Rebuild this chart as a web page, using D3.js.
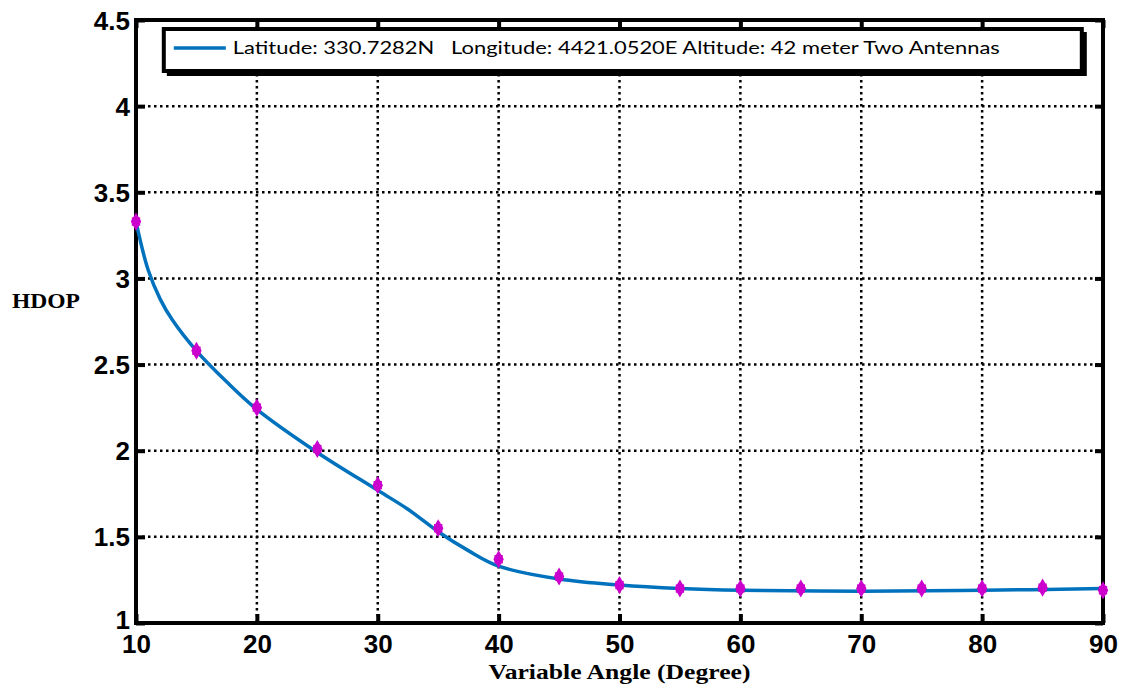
<!DOCTYPE html>
<html>
<head>
<meta charset="utf-8">
<script src="https://cdn.jsdelivr.net/npm/d3@7"></script>
<style>
  body { margin: 0; background: #fff; }
</style>
</head>
<body>
<div id="chart"></div>
<script>
// measured angles and HDOP values
var angles = [10, 15, 20, 25, 30, 35, 40, 45, 50, 55, 60, 65, 70, 75, 80, 85, 90];
var hdop = [3.33, 2.58, 2.25, 2.01, 1.80, 1.55, 1.37, 1.27, 1.22, 1.20, 1.20, 1.20, 1.20, 1.20, 1.20, 1.205, 1.19];

// fitted curve
var fitAngles = [10, 11, 12, 13, 15, 17.5, 20, 25, 30, 32.5, 35, 37.5, 40, 45, 50, 55, 60, 70, 80, 90];
var fitHdop = [3.33, 3.05, 2.88, 2.76, 2.58, 2.40, 2.24, 1.99, 1.77, 1.66, 1.53, 1.42, 1.33, 1.255, 1.22, 1.20, 1.19, 1.185, 1.19, 1.20];

var xTicks = [10, 20, 30, 40, 50, 60, 70, 80, 90];
var yTicks = [1, 1.5, 2, 2.5, 3, 3.5, 4, 4.5];
var legendLabel = "Latitude: 330.7282N   Longitude: 4421.0520E Altitude: 42 meter Two Antennas";

var W = 1123, H = 684;
var margin = {top: 20, right: 20, bottom: 61, left: 136},
    width = W - margin.left - margin.right,
    height = H - margin.top - margin.bottom;

var sansFont = "'Liberation Sans', Arial, sans-serif";
var serifFont = "'Liberation Serif', 'Times New Roman', serif";

var svg = d3.select("#chart").append("svg")
    .attr("width", W)
    .attr("height", H)
  .append("g")
    .attr("transform", "translate(" + margin.left + "," + margin.top + ")");

var x = d3.scaleLinear().domain([10, 90]).range([0, width]);
var y = d3.scaleLinear().domain([1, 4.5]).range([height, 0]);

// grid
svg.append("g").selectAll("line")
    .data(xTicks.slice(1, -1))
    .enter().append("line")
    .attr("x1", d => x(d)).attr("x2", d => x(d))
    .attr("y1", 0).attr("y2", height)
    .attr("stroke", "#000").attr("stroke-width", 2.5)
    .attr("stroke-dasharray", "2.5,3.5");

svg.append("g").selectAll("line")
    .data(yTicks.slice(1, -1))
    .enter().append("line")
    .attr("y1", d => y(d)).attr("y2", d => y(d))
    .attr("x1", 0).attr("x2", width)
    .attr("stroke", "#000").attr("stroke-width", 2.5)
    .attr("stroke-dasharray", "2.5,3.5");

// axes with inward ticks
var xAxis = svg.append("g")
    .attr("transform", "translate(0," + height + ")")
    .call(d3.axisBottom(x).tickValues(xTicks).tickSize(-9).tickPadding(11));
var yAxis = svg.append("g")
    .call(d3.axisLeft(y).tickValues(yTicks).tickSize(-9).tickPadding(6).tickFormat(d3.format("")));
svg.append("g")
    .call(d3.axisTop(x).tickValues(xTicks).tickSize(-8).tickFormat(""));
svg.append("g")
    .attr("transform", "translate(" + width + ",0)")
    .call(d3.axisRight(y).tickValues(yTicks).tickSize(-8).tickFormat(""));

svg.selectAll(".domain").remove();
svg.selectAll(".tick line").attr("stroke", "#000").attr("stroke-width", 4);
svg.selectAll(".tick text")
    .attr("fill", "#000")
    .attr("font-family", sansFont)
    .attr("font-weight", "bold")
    .attr("font-size", 26);
xAxis.selectAll(".tick text").attr("dy", "0.72em");
yAxis.selectAll(".tick text").attr("dy", d => d === 1 ? "0.22em" : "0.35em");

// frame
svg.append("rect")
    .attr("x", 0).attr("y", 0)
    .attr("width", width).attr("height", height)
    .attr("fill", "none")
    .attr("stroke", "#000")
    .attr("stroke-width", 4);

// fitted line
var line = d3.line()
    .x(d => x(d[0]))
    .y(d => y(d[1]))
    .curve(d3.curveCatmullRom);

svg.append("path")
    .datum(d3.zip(fitAngles, fitHdop))
    .attr("fill", "none")
    .attr("stroke", "#0072BD")
    .attr("stroke-width", 3.5)
    .attr("d", line);

// markers
var pts = svg.append("g").selectAll("g")
    .data(d3.zip(angles, hdop))
    .enter().append("g")
    .attr("transform", d => "translate(" + x(d[0]) + "," + y(d[1]) + ")");
pts.append("path")
    .attr("d", d3.symbol().type(d3.symbolDiamond).size(95))
    .attr("fill", "#CC00CC");
pts.append("path")
    .attr("d", d3.symbol().type(d3.symbolSquare).size(70))
    .attr("fill", "#CC00CC");

// legend
var lg = svg.append("g").attr("transform", "translate(" + (x(12.3)) + "," + 9 + ")");
lg.append("rect")
    .attr("x", 3).attr("y", 3)
    .attr("width", 920).attr("height", 44)
    .attr("fill", "#000");
lg.append("rect")
    .attr("x", 0).attr("y", 0)
    .attr("width", 918).attr("height", 42)
    .attr("fill", "#fff")
    .attr("stroke", "#000")
    .attr("stroke-width", 4);
lg.append("line")
    .attr("x1", 10).attr("x2", 62)
    .attr("y1", 19).attr("y2", 19)
    .attr("stroke", "#0072BD")
    .attr("stroke-width", 3.5);
lg.append("text")
    .attr("x", 69).attr("y", 25)
    .attr("fill", "#000")
    .attr("font-family", "Lato, 'Open Sans', sans-serif")
    .attr("font-size", 18)
    .attr("xml:space", "preserve")
    .style("white-space", "pre")
    .attr("textLength", 767)
    .attr("lengthAdjust", "spacingAndGlyphs")
    .text(legendLabel);

// axis titles
svg.append("text")
    .attr("x", x(50) - 131).attr("y", height + 56)
    .attr("font-family", serifFont)
    .attr("font-weight", "bold")
    .attr("font-size", 21)
    .attr("textLength", 262)
    .attr("lengthAdjust", "spacingAndGlyphs")
    .text("Variable Angle (Degree)");

svg.append("text")
    .attr("x", -124).attr("y", 288)
    .attr("font-family", serifFont)
    .attr("font-weight", "bold")
    .attr("font-size", 22)
    .attr("textLength", 68)
    .attr("lengthAdjust", "spacingAndGlyphs")
    .text("HDOP");
</script>
</body>
</html>
